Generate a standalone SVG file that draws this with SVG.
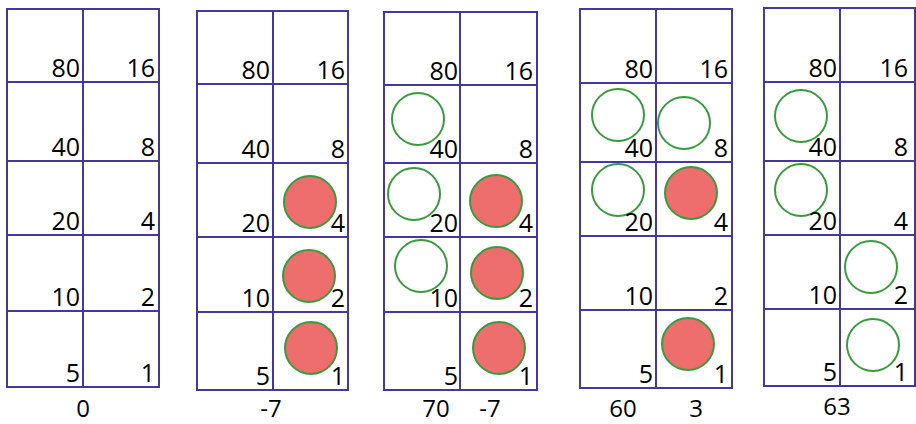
<svg xmlns="http://www.w3.org/2000/svg" width="916" height="424" viewBox="0 0 916 424">
<style>
.g{fill:none;stroke:#46379a;stroke-width:2}
.t{font-family:"Open Sans","Liberation Sans",Arial,sans-serif;font-size:25px;font-weight:500;fill:#000;text-anchor:end}
.b{font-family:"Open Sans","Liberation Sans",Arial,sans-serif;font-size:24px;font-weight:500;fill:#000;text-anchor:middle}
.r{fill:#ee6d6d;stroke:#3a9a3e;stroke-width:2}
.o{fill:none;stroke:#3a9a3e;stroke-width:2}
</style>
<rect width="916" height="424" fill="#fff"/>
<g id="panel1">
<rect class="g" x="7" y="9" width="152" height="378"/>
<path class="g" d="M83 9V387M7 82H159M7 161H159M7 235H159M7 311H159"/>
<text class="t" x="80" y="77">80</text><text class="t" x="155" y="77">16</text>
<text class="t" x="80" y="156">40</text><text class="t" x="155" y="156">8</text>
<text class="t" x="80" y="230">20</text><text class="t" x="155" y="230">4</text>
<text class="t" x="80" y="306">10</text><text class="t" x="155" y="306">2</text>
<text class="t" x="80" y="382">5</text><text class="t" x="155" y="382">1</text>
<text class="b" x="83" y="417">0</text>
</g>
<g id="panel2">
<rect class="g" x="197" y="11" width="151" height="379"/>
<path class="g" d="M273 11V390M197 84H348M197 163H348M197 237H348M197 312H348"/>
<circle class="r" cx="310" cy="202" r="26"/>
<circle class="r" cx="309" cy="276" r="26"/>
<circle class="r" cx="311" cy="348" r="26"/>
<text class="t" x="270" y="79">80</text><text class="t" x="345" y="79">16</text>
<text class="t" x="270" y="158">40</text><text class="t" x="345" y="158">8</text>
<text class="t" x="270" y="232">20</text><text class="t" x="345" y="232">4</text>
<text class="t" x="270" y="307">10</text><text class="t" x="345" y="307">2</text>
<text class="t" x="270" y="385">5</text><text class="t" x="345" y="385">1</text>
<text class="b" x="271" y="417">-7</text>
</g>
<g id="panel3">
<rect class="g" x="384" y="12" width="153" height="378"/>
<path class="g" d="M460 12V390M384 85H537M384 163H537M384 237H537M384 312H537"/>
<circle class="o" cx="418" cy="119" r="26"/>
<circle class="o" cx="414" cy="194" r="26"/>
<circle class="r" cx="496" cy="201" r="26"/>
<circle class="o" cx="421" cy="266" r="26"/>
<circle class="r" cx="497" cy="273" r="26"/>
<circle class="r" cx="499" cy="348" r="26"/>
<text class="t" x="458" y="80">80</text><text class="t" x="533" y="80">16</text>
<text class="t" x="458" y="158">40</text><text class="t" x="533" y="158">8</text>
<text class="t" x="458" y="232">20</text><text class="t" x="533" y="232">4</text>
<text class="t" x="458" y="307">10</text><text class="t" x="533" y="307">2</text>
<text class="t" x="458" y="385">5</text><text class="t" x="533" y="385">1</text>
<text class="b" x="436" y="417">70</text><text class="b" x="490" y="417">-7</text>
</g>
<g id="panel4">
<rect class="g" x="580" y="9" width="152" height="379"/>
<path class="g" d="M656 9V388M580 83H732M580 162H732M580 236H732M580 310H732"/>
<circle class="o" cx="618" cy="115" r="26"/>
<circle class="o" cx="684" cy="123" r="26"/>
<circle class="o" cx="618" cy="190" r="26"/>
<circle class="r" cx="691" cy="193" r="26"/>
<circle class="r" cx="688" cy="344" r="26"/>
<text class="t" x="653" y="78">80</text><text class="t" x="728" y="78">16</text>
<text class="t" x="653" y="157">40</text><text class="t" x="728" y="157">8</text>
<text class="t" x="653" y="231">20</text><text class="t" x="728" y="231">4</text>
<text class="t" x="653" y="305">10</text><text class="t" x="728" y="305">2</text>
<text class="t" x="653" y="383">5</text><text class="t" x="728" y="383">1</text>
<text class="b" x="623" y="417">60</text><text class="b" x="696" y="417">3</text>
</g>
<g id="panel5">
<rect class="g" x="764" y="8" width="151" height="378"/>
<path class="g" d="M840 8V386M764 82H915M764 161H915M764 235H915M764 309H915"/>
<circle class="o" cx="801" cy="116" r="26"/>
<circle class="o" cx="801" cy="190" r="26"/>
<circle class="o" cx="871" cy="267" r="26"/>
<circle class="o" cx="873" cy="345" r="26"/>
<text class="t" x="837" y="77">80</text><text class="t" x="908" y="77">16</text>
<text class="t" x="837" y="156">40</text><text class="t" x="908" y="156">8</text>
<text class="t" x="837" y="230">20</text><text class="t" x="908" y="230">4</text>
<text class="t" x="837" y="304">10</text><text class="t" x="908" y="304">2</text>
<text class="t" x="837" y="381">5</text><text class="t" x="908" y="381">1</text>
<text class="b" x="837" y="415">63</text>
</g>
</svg>
